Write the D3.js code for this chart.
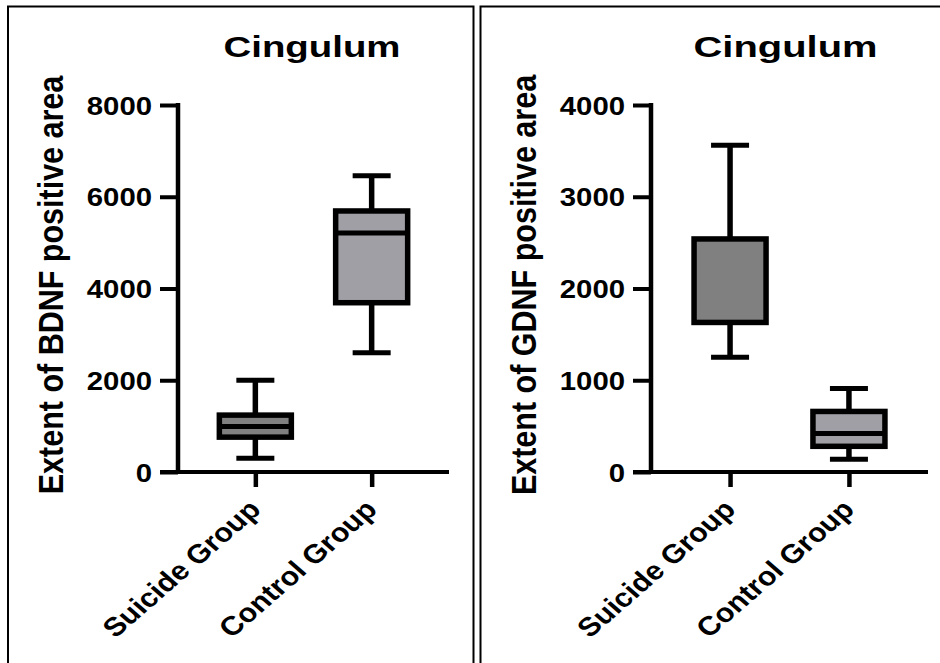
<!DOCTYPE html>
<html>
<head>
<meta charset="utf-8">
<script src="https://cdn.jsdelivr.net/npm/d3@7"></script>
<style>
  body { margin: 0; background: #fff; }
  svg { display: block; font-family: "Liberation Sans", Arial, sans-serif; }
</style>
</head>
<body>
<div id="chart"></div>
<script>
// DATA
const groups = ["Suicide Group", "Control Group"];
const fills = ["#808080", "#a09fa5"];

// box stats: [min, q1, median, q3, max]
const bdnfStats = [
  [300, 760, 990, 1240, 2000],
  [2600, 3690, 5210, 5690, 6460],
];
const gdnfStats = [
  [1250, 1630, 1630, 2540, 3560],
  [140, 280, 420, 660, 910],
];

const bdnfTicks = [0, 2000, 4000, 6000, 8000];
const gdnfTicks = [0, 1000, 2000, 3000, 4000];

const panels = [
  { title: "Cingulum", ylabel: "Extent of BDNF positive area", stats: bdnfStats, ticks: bdnfTicks, max: 8000, axisX: 178, axisEnd: 449, titleLen: 177 },
  { title: "Cingulum", ylabel: "Extent of GDNF positive area", stats: gdnfStats, ticks: gdnfTicks, max: 4000, axisX: 651, axisEnd: 928, titleLen: 184 },
];

// CONST
const width = 940, height = 663;
const stretch = 1.15; // the source figure is a bit wider than tall
const yBottom = 472, yTop = 105;
const boxW = 72, capW = 38;

const svg = d3.select("#chart")
  .append("svg")
  .attr("width", width)
  .attr("height", height);

// panel frames
svg.append("path")
  .attr("d", "M8,680 V6.5 H473.5 V680")
  .attr("fill", "none").attr("stroke", "#000").attr("stroke-width", 2);
svg.append("path")
  .attr("d", "M480.5,680 V6.5 H960")
  .attr("fill", "none").attr("stroke", "#000").attr("stroke-width", 2);

panels.forEach((p, pi) => {
  const g = svg.append("g");

  const y = d3.scaleLinear().domain([0, p.max]).range([yBottom, yTop]);
  const x = d3.scalePoint().domain(groups).range([p.axisX, p.axisEnd]).padding(0.665);

  // y axis
  const yAxis = d3.axisLeft(y).tickValues(p.ticks).tickSize(18).tickPadding(8).tickFormat(d3.format("d"));
  const ya = g.append("g")
    .attr("transform", `translate(${p.axisX},0)`)
    .call(yAxis);
  ya.select(".domain").attr("d", `M0,${yTop - 2}V${yBottom}`).attr("stroke-width", 4.5);
  ya.selectAll(".tick line").attr("stroke-width", 4);
  ya.selectAll(".tick text")
    .attr("font-size", 25.5).attr("font-weight", "bold").attr("fill", "#000")
    .attr("dy", "0.36em")
    .attr("transform", function () {
      const tx = +d3.select(this).attr("x");
      return `translate(${tx},0) scale(${stretch},1) translate(${-tx},0)`;
    });

  // x axis
  const xAxis = d3.axisBottom(x).tickSize(15).tickFormat("");
  const xa = g.append("g")
    .attr("transform", `translate(0,${yBottom})`)
    .call(xAxis);
  xa.select(".domain").attr("d", `M${p.axisX - 18},0H${p.axisEnd}`).attr("stroke-width", 4);
  xa.selectAll(".tick line").attr("stroke-width", 4.5);

  // category labels
  g.selectAll(".cat")
    .data(groups)
    .join("text")
    .attr("class", "cat")
    .attr("text-anchor", "end")
    .attr("font-size", 26.5).attr("font-weight", "bold")
    .attr("transform", (d) => `translate(${x(d) + 7},${yBottom + 39}) scale(${stretch},1) rotate(-45)`)
    .text((d) => d);

  // boxes
  const box = g.selectAll(".box")
    .data(p.stats)
    .join("g")
    .attr("class", "box")
    .attr("transform", (d, i) => `translate(${x(groups[i])},0)`);

  box.append("line")
    .attr("x1", 0).attr("x2", 0)
    .attr("y1", (d) => y(d[4])).attr("y2", (d) => y(d[3]))
    .attr("stroke", "#000").attr("stroke-width", 5.5);
  box.append("line")
    .attr("x1", 0).attr("x2", 0)
    .attr("y1", (d) => y(d[1])).attr("y2", (d) => y(d[0]))
    .attr("stroke", "#000").attr("stroke-width", 5.5);
  box.append("line")
    .attr("x1", -capW / 2).attr("x2", capW / 2)
    .attr("y1", (d) => y(d[4])).attr("y2", (d) => y(d[4]))
    .attr("stroke", "#000").attr("stroke-width", 5);
  box.append("line")
    .attr("x1", -capW / 2).attr("x2", capW / 2)
    .attr("y1", (d) => y(d[0])).attr("y2", (d) => y(d[0]))
    .attr("stroke", "#000").attr("stroke-width", 5);
  box.append("rect")
    .attr("x", -boxW / 2)
    .attr("width", boxW)
    .attr("y", (d) => y(d[3]))
    .attr("height", (d) => y(d[1]) - y(d[3]))
    .attr("fill", (d, i) => fills[i])
    .attr("stroke", "#000").attr("stroke-width", 5.5);
  box.append("line")
    .attr("x1", -boxW / 2).attr("x2", boxW / 2)
    .attr("y1", (d) => y(d[2])).attr("y2", (d) => y(d[2]))
    .attr("stroke", "#000").attr("stroke-width", 5);

  // y label
  g.append("text")
    .attr("text-anchor", "middle")
    .attr("font-size", 30.5).attr("font-weight", "bold")
    .attr("transform", `translate(${p.axisX - 115},${(yBottom + 28 + 70) / 2}) scale(${stretch},1) rotate(-90)`)
    .text(p.ylabel);

  // title
  g.append("text")
    .attr("text-anchor", "middle")
    .attr("x", p.axisX + 134 + pi * 0.5)
    .attr("y", 57)
    .attr("font-size", 29).attr("font-weight", "bold")
    .attr("textLength", p.titleLen)
    .attr("lengthAdjust", "spacingAndGlyphs")
    .text(p.title);
});
</script>
</body>
</html>
